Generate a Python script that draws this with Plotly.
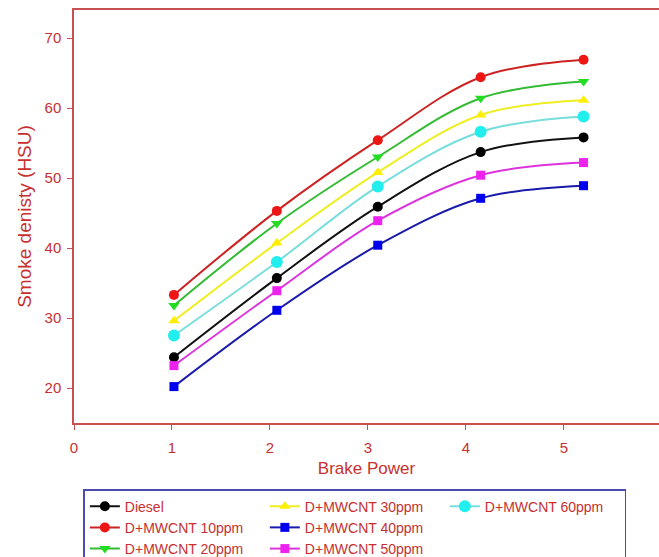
import plotly.graph_objects as go

# Brake power (kW) at each load step
brake_power = [1.02, 2.07, 3.1, 4.15, 5.2]

# Smoke density (HSU) per fuel blend
diesel = [24.4, 35.7, 45.9, 53.7, 55.8]
mwcnt_10 = [33.3, 45.3, 55.4, 64.4, 66.9]
mwcnt_20 = [31.8, 43.5, 53.0, 61.4, 63.8]
mwcnt_30 = [29.6, 40.7, 50.8, 59.0, 61.1]
mwcnt_40 = [20.2, 31.1, 40.4, 47.1, 48.9]
mwcnt_50 = [23.2, 33.9, 43.9, 50.4, 52.2]
mwcnt_60 = [27.5, 38.0, 48.8, 56.6, 58.8]

series_names = ["Diesel", "D+MWCNT 10ppm", "D+MWCNT 20ppm", "D+MWCNT 30ppm",
                "D+MWCNT 40ppm", "D+MWCNT 50ppm", "D+MWCNT 60ppm"]
series_values = [diesel, mwcnt_10, mwcnt_20, mwcnt_30, mwcnt_40, mwcnt_50, mwcnt_60]

# (line colour, marker colour, symbol, marker size)
styles = [
    ("#111111", "#000000", "circle", 10),
    ("#cc2222", "#ee1515", "circle", 10),
    ("#33bb33", "#22dd22", "triangle-down", 10),
    ("#eeee22", "#ffee00", "triangle-up", 10),
    ("#1a1aaa", "#0000ee", "square", 9),
    ("#dd33dd", "#ee22ee", "square", 9),
    ("#77dddd", "#22eeee", "circle", 12),
]

# legend is filled row by row: arrange so it reads as three columns
legend_rank = [1, 4, 7, 2, 5, 8, 3]

AXIS = "#c85050"
TEXT = "#c83030"

fig = go.Figure()
for name, vals, (lc, mc, sym, ms), rank in zip(series_names, series_values, styles, legend_rank):
    fig.add_trace(go.Scatter(
        x=brake_power, y=vals, name=name, mode="lines+markers",
        line=dict(color=lc, width=2, shape="spline", smoothing=1),
        marker=dict(color=mc, symbol=sym, size=ms),
        legendrank=rank,
    ))

# empty slot to keep the third column to a single entry
fig.add_trace(go.Scatter(x=[None], y=[None], name=" ", mode="lines",
                         line=dict(color="rgba(0,0,0,0)"), legendrank=6,
                         hoverinfo="skip"))

fig.update_layout(
    width=659, height=557,
    margin=dict(l=74, r=0, t=10, b=134, autoexpand=False),
    plot_bgcolor="white", paper_bgcolor="white",
    font=dict(family="Arial, Liberation Sans, sans-serif", color=TEXT, size=14),
    legend=dict(
        orientation="h", x=0.016, xanchor="left", y=-0.16, yanchor="top",
        entrywidth=135, entrywidthmode="pixels",
        bordercolor="#4a4ab0", borderwidth=1.5, bgcolor="white",
        font=dict(size=14, color=TEXT), traceorder="normal",
        itemsizing="trace",
    ),
    showlegend=True,
)

fig.update_xaxes(
    range=[0, 5.97], dtick=1, tick0=0,
    showline=True, linecolor=AXIS, linewidth=1.5, mirror=True,
    ticks="outside", ticklen=5, tickcolor=AXIS,
    showgrid=False, zeroline=False, ticklabelstandoff=5,
    tickfont=dict(size=15, color=TEXT),
    title=dict(text="Brake Power", font=dict(size=17, color=TEXT), standoff=7),
)
fig.update_yaxes(
    range=[15, 74], tickvals=[20, 30, 40, 50, 60, 70],
    showline=True, linecolor=AXIS, linewidth=1.5, mirror=False,
    ticks="outside", ticklen=5, tickcolor=AXIS,
    showgrid=False, zeroline=False, ticklabelstandoff=3,
    tickfont=dict(size=15, color=TEXT),
    title=dict(text="Smoke denisty (HSU)", font=dict(size=19, color=TEXT), standoff=8),
)

fig.write_html("out.html")
